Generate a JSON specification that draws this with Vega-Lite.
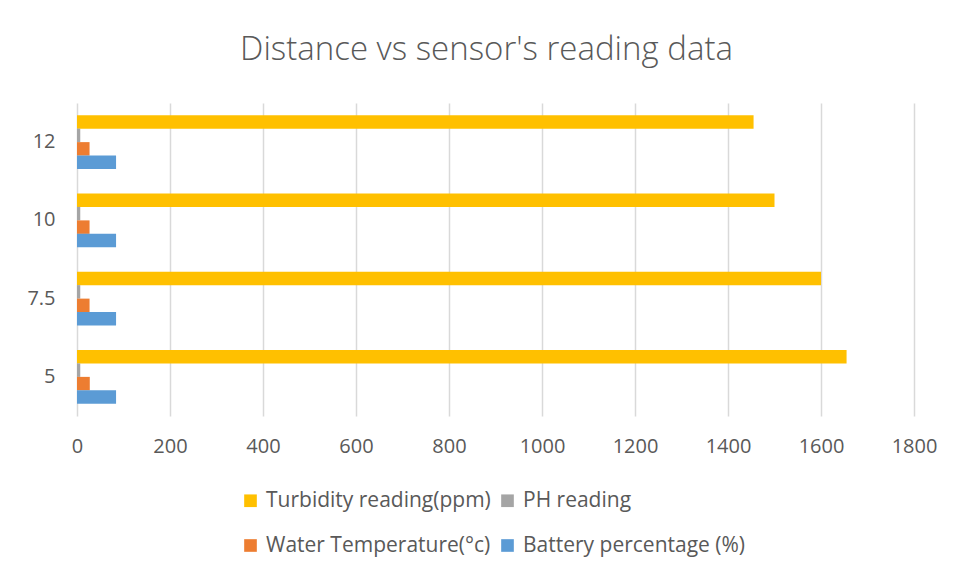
{
  "$schema": "https://vega.github.io/schema/vega-lite/v6.json",
  "width": 837,
  "height": 313,
  "autosize": {"type": "none"},
  "padding": {"left": 77, "top": 103, "right": 44, "bottom": 162},
  "background": "white",
  "title": {
    "text": "Distance vs sensor's reading data",
    "fontSize": 33,
    "font": "Open Sans",
    "fontWeight": 300,
    "color": "#595959",
    "anchor": "middle",
    "frame": "group",
    "offset": 36,
    "dx": -9
  },
  "data": {
    "values": [
      {"distance": "12", "series": "Turbidity reading(ppm)", "value": 1455},
      {"distance": "12", "series": "PH reading", "value": 7},
      {"distance": "12", "series": "Water Temperature(°c)", "value": 27},
      {"distance": "12", "series": "Battery percentage (%)", "value": 84},
      {"distance": "10", "series": "Turbidity reading(ppm)", "value": 1500},
      {"distance": "10", "series": "PH reading", "value": 7},
      {"distance": "10", "series": "Water Temperature(°c)", "value": 27},
      {"distance": "10", "series": "Battery percentage (%)", "value": 84},
      {"distance": "7.5", "series": "Turbidity reading(ppm)", "value": 1600},
      {"distance": "7.5", "series": "PH reading", "value": 7},
      {"distance": "7.5", "series": "Water Temperature(°c)", "value": 27},
      {"distance": "7.5", "series": "Battery percentage (%)", "value": 84},
      {"distance": "5", "series": "Turbidity reading(ppm)", "value": 1655},
      {"distance": "5", "series": "PH reading", "value": 7},
      {"distance": "5", "series": "Water Temperature(°c)", "value": 27.5},
      {"distance": "5", "series": "Battery percentage (%)", "value": 84}
    ]
  },
  "mark": {"type": "bar"},
  "encoding": {
    "y": {
      "field": "distance",
      "type": "ordinal",
      "sort": ["12", "10", "7.5", "5"],
      "scale": {"paddingInner": 0.31, "paddingOuter": 0.155},
      "axis": {
        "title": null,
        "domain": false,
        "ticks": false,
        "grid": false,
        "labelFontSize": 20,
        "labelFont": "Open Sans",
        "labelColor": "#595959",
        "labelPadding": 22
      }
    },
    "yOffset": {
      "field": "series",
      "sort": ["Turbidity reading(ppm)", "PH reading", "Water Temperature(°c)", "Battery percentage (%)"],
      "scale": {"paddingInner": 0, "paddingOuter": 0}
    },
    "x": {
      "field": "value",
      "type": "quantitative",
      "scale": {"domain": [0, 1800]},
      "axis": {
        "title": null,
        "values": [0, 200, 400, 600, 800, 1000, 1200, 1400, 1600, 1800],
        "format": "d",
        "domain": false,
        "ticks": false,
        "grid": true,
        "gridColor": "#d9d9d9",
        "gridWidth": 1.5,
        "labelFlush": false,
        "labelBound": false,
        "labelOverlap": false,
        "labelFontSize": 20,
        "labelFont": "Open Sans",
        "labelColor": "#595959",
        "labelPadding": 20
      }
    },
    "color": {
      "field": "series",
      "type": "nominal",
      "sort": ["Turbidity reading(ppm)", "PH reading", "Water Temperature(°c)", "Battery percentage (%)"],
      "scale": {
        "domain": ["Turbidity reading(ppm)", "PH reading", "Water Temperature(°c)", "Battery percentage (%)"],
        "range": ["#FFC000", "#A5A5A5", "#ED7D31", "#5B9BD5"]
      },
      "legend": {
        "title": null,
        "orient": "none",
        "direction": "horizontal",
        "legendX": 163,
        "legendY": 387,
        "columns": 2,
        "symbolType": "square",
        "symbolSize": 160,
        "symbolStrokeWidth": 0,
        "labelFontSize": 21,
        "labelFont": "Open Sans",
        "labelColor": "#595959",
        "labelOffset": 5,
        "labelLimit": 400,
        "rowPadding": 23,
        "columnPadding": 6
      }
    }
  },
  "config": {"view": {"stroke": null}}
}
